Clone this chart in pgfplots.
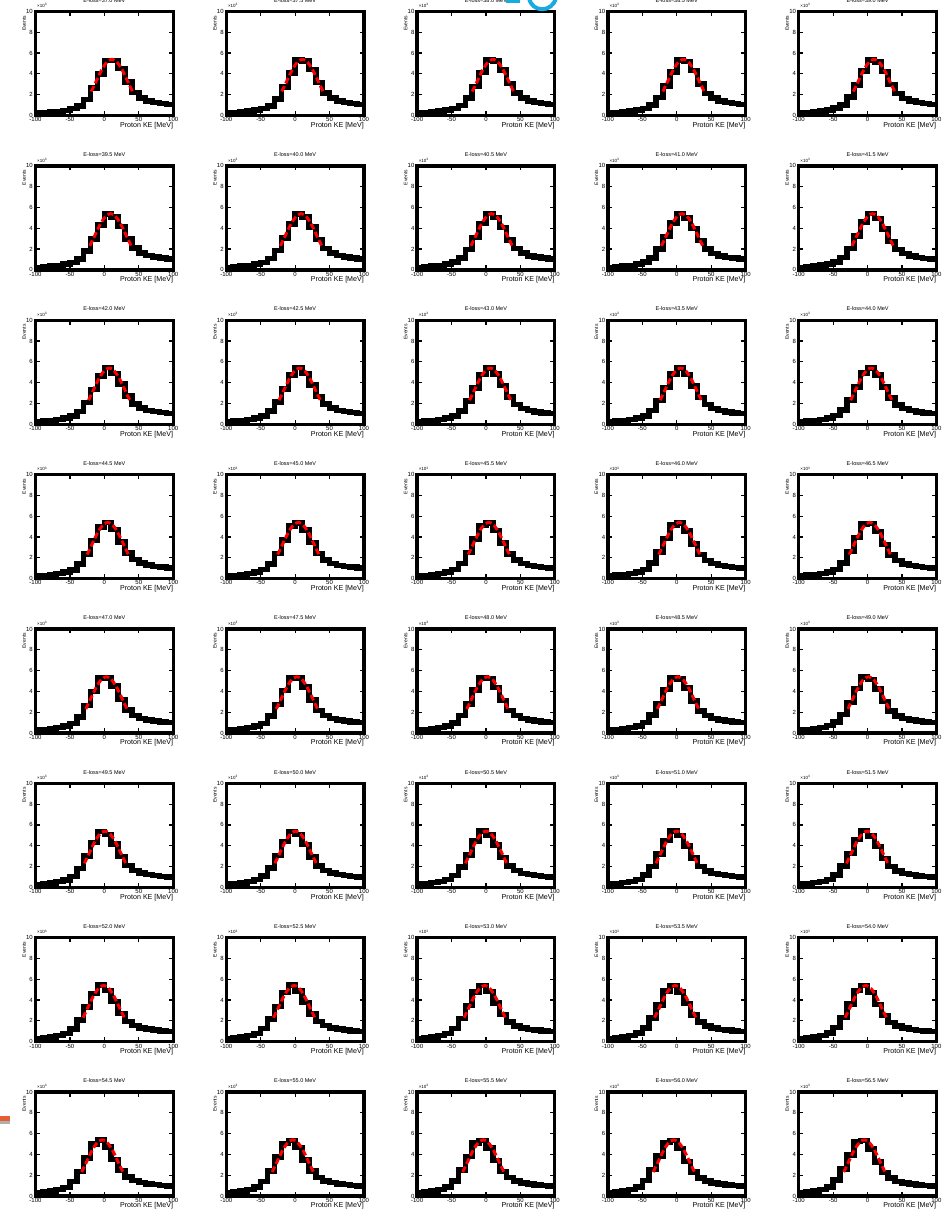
\documentclass[border=0pt]{standalone}
\usepackage{pgfplots}
\pgfplotsset{compat=1.18}
\usepackage{pgfplotstable}
\usepackage{fontspec}
\setmainfont{Liberation Sans}

\definecolor{slidecyan}{RGB}{25,170,225}
\definecolor{slideorange}{RGB}{230,95,50}
\definecolor{slidegray}{RGB}{175,175,175}

% Histogram contents: column 0 = left bin edge (MeV), columns 1..40 = events (x10^3)
% for E-loss = 37.0, 37.5, ..., 56.5 MeV. The last row closes the final bin.
\pgfplotstableread[header=false]{
-100 0.22 0.22 0.23 0.23 0.23 0.24 0.24 0.24 0.24 0.25 0.25 0.25 0.26 0.26 0.26 0.27 0.27 0.27 0.27 0.28 0.28 0.28 0.29 0.29 0.29 0.29 0.30 0.30 0.30 0.30 0.31 0.31 0.31 0.31 0.32 0.32 0.32 0.32 0.33 0.33
-90 0.28 0.28 0.29 0.29 0.29 0.29 0.30 0.30 0.30 0.30 0.31 0.31 0.31 0.31 0.32 0.32 0.32 0.32 0.33 0.33 0.33 0.33 0.34 0.34 0.34 0.35 0.35 0.35 0.36 0.36 0.37 0.37 0.37 0.38 0.38 0.38 0.39 0.39 0.39 0.40
-80 0.33 0.33 0.34 0.34 0.34 0.35 0.35 0.35 0.36 0.36 0.37 0.37 0.37 0.38 0.38 0.38 0.39 0.39 0.39 0.40 0.40 0.41 0.41 0.42 0.42 0.43 0.43 0.44 0.44 0.45 0.45 0.46 0.46 0.47 0.47 0.48 0.48 0.49 0.49 0.50
-70 0.40 0.41 0.41 0.42 0.42 0.43 0.43 0.44 0.44 0.45 0.45 0.46 0.46 0.47 0.47 0.48 0.48 0.49 0.49 0.50 0.50 0.51 0.52 0.52 0.53 0.54 0.55 0.55 0.56 0.57 0.58 0.58 0.59 0.60 0.61 0.61 0.62 0.63 0.64 0.64
-60 0.50 0.51 0.52 0.52 0.53 0.54 0.55 0.55 0.56 0.57 0.58 0.58 0.59 0.60 0.61 0.61 0.62 0.63 0.64 0.64 0.65 0.66 0.68 0.69 0.70 0.71 0.73 0.74 0.75 0.76 0.78 0.79 0.80 0.81 0.83 0.84 0.85 0.86 0.88 0.89
-50 0.65 0.66 0.68 0.69 0.70 0.71 0.73 0.74 0.75 0.76 0.78 0.79 0.80 0.81 0.83 0.84 0.85 0.86 0.88 0.89 0.90 0.93 0.97 1.00 1.03 1.06 1.10 1.13 1.16 1.19 1.23 1.26 1.29 1.32 1.36 1.39 1.42 1.45 1.49 1.52
-40 0.90 0.93 0.97 1.00 1.03 1.06 1.10 1.13 1.16 1.19 1.23 1.26 1.29 1.32 1.36 1.39 1.42 1.45 1.49 1.52 1.55 1.61 1.66 1.72 1.77 1.83 1.88 1.94 1.99 2.05 2.10 2.16 2.21 2.27 2.32 2.38 2.43 2.49 2.54 2.60
-30 1.55 1.61 1.66 1.72 1.77 1.83 1.88 1.94 1.99 2.05 2.10 2.16 2.21 2.27 2.32 2.38 2.43 2.49 2.54 2.60 2.65 2.72 2.79 2.85 2.92 2.99 3.06 3.12 3.19 3.26 3.33 3.39 3.46 3.53 3.60 3.66 3.73 3.80 3.87 3.93
-20 2.65 2.72 2.79 2.85 2.92 2.99 3.06 3.12 3.19 3.26 3.33 3.39 3.46 3.53 3.60 3.66 3.73 3.80 3.87 3.93 4.00 4.07 4.13 4.20 4.26 4.33 4.39 4.46 4.52 4.59 4.65 4.72 4.78 4.85 4.91 4.98 5.04 5.11 5.17 5.24
-10 4.00 4.07 4.13 4.20 4.26 4.33 4.39 4.46 4.52 4.59 4.65 4.72 4.78 4.85 4.91 4.98 5.04 5.11 5.17 5.24 5.30 5.32 5.33 5.35 5.36 5.38 5.39 5.41 5.42 5.44 5.45 5.44 5.42 5.41 5.39 5.38 5.36 5.35 5.33 5.32
0 5.30 5.32 5.33 5.35 5.36 5.38 5.39 5.41 5.42 5.44 5.45 5.44 5.42 5.41 5.39 5.38 5.36 5.35 5.33 5.32 5.30 5.26 5.22 5.18 5.14 5.10 5.06 5.02 4.98 4.94 4.90 4.86 4.82 4.78 4.74 4.70 4.66 4.62 4.58 4.54
10 5.30 5.26 5.22 5.18 5.14 5.10 5.06 5.02 4.98 4.94 4.90 4.86 4.82 4.78 4.74 4.70 4.66 4.62 4.58 4.54 4.50 4.44 4.37 4.31 4.24 4.18 4.11 4.05 3.98 3.92 3.85 3.79 3.72 3.66 3.59 3.53 3.46 3.40 3.33 3.27
20 4.50 4.44 4.37 4.31 4.24 4.18 4.11 4.05 3.98 3.92 3.85 3.79 3.72 3.66 3.59 3.53 3.46 3.40 3.33 3.27 3.20 3.15 3.10 3.05 3.00 2.95 2.90 2.85 2.80 2.75 2.70 2.65 2.60 2.55 2.50 2.45 2.40 2.35 2.30 2.25
30 3.20 3.15 3.10 3.05 3.00 2.95 2.90 2.85 2.80 2.75 2.70 2.65 2.60 2.55 2.50 2.45 2.40 2.35 2.30 2.25 2.20 2.18 2.15 2.13 2.10 2.08 2.05 2.03 2.00 1.98 1.95 1.93 1.90 1.88 1.85 1.83 1.80 1.78 1.75 1.73
40 2.20 2.18 2.15 2.13 2.10 2.08 2.05 2.03 2.00 1.98 1.95 1.93 1.90 1.88 1.85 1.83 1.80 1.78 1.75 1.73 1.70 1.69 1.67 1.66 1.64 1.63 1.61 1.60 1.58 1.57 1.55 1.54 1.52 1.51 1.49 1.48 1.46 1.45 1.43 1.42
50 1.70 1.69 1.67 1.66 1.64 1.63 1.61 1.60 1.58 1.57 1.55 1.54 1.52 1.51 1.49 1.48 1.46 1.45 1.43 1.42 1.40 1.39 1.39 1.38 1.37 1.36 1.36 1.35 1.34 1.33 1.33 1.32 1.31 1.30 1.30 1.29 1.28 1.27 1.27 1.26
60 1.40 1.39 1.39 1.38 1.37 1.36 1.36 1.35 1.34 1.33 1.33 1.32 1.31 1.30 1.30 1.29 1.28 1.27 1.27 1.26 1.25 1.25 1.24 1.24 1.23 1.23 1.22 1.22 1.21 1.21 1.20 1.20 1.19 1.19 1.18 1.18 1.17 1.17 1.16 1.16
70 1.25 1.25 1.24 1.24 1.23 1.23 1.22 1.22 1.21 1.21 1.20 1.20 1.19 1.19 1.18 1.18 1.17 1.17 1.16 1.16 1.15 1.15 1.14 1.14 1.13 1.13 1.13 1.12 1.12 1.11 1.11 1.11 1.10 1.10 1.09 1.09 1.09 1.08 1.08 1.07
80 1.15 1.15 1.14 1.14 1.13 1.13 1.13 1.12 1.12 1.11 1.11 1.11 1.10 1.10 1.09 1.09 1.09 1.08 1.08 1.07 1.07 1.07 1.06 1.06 1.06 1.06 1.05 1.05 1.05 1.05 1.05 1.04 1.04 1.04 1.04 1.03 1.03 1.03 1.02 1.02
90 1.07 1.07 1.06 1.06 1.06 1.06 1.05 1.05 1.05 1.05 1.05 1.04 1.04 1.04 1.04 1.03 1.03 1.03 1.02 1.02 1.02 1.02 1.01 1.01 1.01 1.01 1.00 1.00 1.00 1.00 1.00 0.99 0.99 0.99 0.99 0.98 0.98 0.98 0.97 0.97
100 1.07 1.07 1.06 1.06 1.06 1.06 1.05 1.05 1.05 1.05 1.05 1.04 1.04 1.04 1.04 1.03 1.03 1.03 1.02 1.02 1.02 1.02 1.01 1.01 1.01 1.01 1.00 1.00 1.00 1.00 1.00 0.99 0.99 0.99 0.99 0.98 0.98 0.98 0.97 0.97
}\histtab

% Peak fits: column 0 = fitted events (x10^3), columns 1..40 = proton KE (MeV)
% of that point of the fit curve for each E-loss panel.
\pgfplotstableread[header=false]{
2.31 -19.0 -19.4 -19.8 -20.2 -20.6 -21.0 -21.4 -21.8 -22.2 -22.6 -23.0 -23.4 -23.8 -24.2 -24.6 -25.0 -25.4 -25.8 -26.2 -26.6 -27.0 -27.4 -27.8 -28.2 -28.6 -29.0 -29.4 -29.8 -30.2 -30.6 -31.0 -31.4 -31.8 -32.2 -32.6 -33.0 -33.4 -33.8 -34.2 -34.6
2.99 -14.0 -14.4 -14.8 -15.2 -15.6 -16.0 -16.4 -16.8 -17.2 -17.6 -18.0 -18.4 -18.8 -19.2 -19.6 -20.0 -20.4 -20.8 -21.2 -21.6 -22.0 -22.4 -22.8 -23.2 -23.6 -24.0 -24.4 -24.8 -25.2 -25.6 -26.0 -26.4 -26.8 -27.2 -27.6 -28.0 -28.4 -28.8 -29.2 -29.6
3.70 -9.0 -9.4 -9.8 -10.2 -10.6 -11.0 -11.4 -11.8 -12.2 -12.6 -13.0 -13.4 -13.8 -14.2 -14.6 -15.0 -15.4 -15.8 -16.2 -16.6 -17.0 -17.4 -17.8 -18.2 -18.6 -19.0 -19.4 -19.8 -20.2 -20.6 -21.0 -21.4 -21.8 -22.2 -22.6 -23.0 -23.4 -23.8 -24.2 -24.6
4.37 -4.0 -4.4 -4.8 -5.2 -5.6 -6.0 -6.4 -6.8 -7.2 -7.6 -8.0 -8.4 -8.8 -9.2 -9.6 -10.0 -10.4 -10.8 -11.2 -11.6 -12.0 -12.4 -12.8 -13.2 -13.6 -14.0 -14.4 -14.8 -15.2 -15.6 -16.0 -16.4 -16.8 -17.2 -17.6 -18.0 -18.4 -18.8 -19.2 -19.6
4.91 1.0 0.6 0.2 -0.2 -0.6 -1.0 -1.4 -1.8 -2.2 -2.6 -3.0 -3.4 -3.8 -4.2 -4.6 -5.0 -5.4 -5.8 -6.2 -6.6 -7.0 -7.4 -7.8 -8.2 -8.6 -9.0 -9.4 -9.8 -10.2 -10.6 -11.0 -11.4 -11.8 -12.2 -12.6 -13.0 -13.4 -13.8 -14.2 -14.6
5.27 6.0 5.6 5.2 4.8 4.4 4.0 3.6 3.2 2.8 2.4 2.0 1.6 1.2 0.8 0.4 0.0 -0.4 -0.8 -1.2 -1.6 -2.0 -2.4 -2.8 -3.2 -3.6 -4.0 -4.4 -4.8 -5.2 -5.6 -6.0 -6.4 -6.8 -7.2 -7.6 -8.0 -8.4 -8.8 -9.2 -9.6
5.40 11.0 10.6 10.2 9.8 9.4 9.0 8.6 8.2 7.8 7.4 7.0 6.6 6.2 5.8 5.4 5.0 4.6 4.2 3.8 3.4 3.0 2.6 2.2 1.8 1.4 1.0 0.6 0.2 -0.2 -0.6 -1.0 -1.4 -1.8 -2.2 -2.6 -3.0 -3.4 -3.8 -4.2 -4.6
5.27 16.0 15.6 15.2 14.8 14.4 14.0 13.6 13.2 12.8 12.4 12.0 11.6 11.2 10.8 10.4 10.0 9.6 9.2 8.8 8.4 8.0 7.6 7.2 6.8 6.4 6.0 5.6 5.2 4.8 4.4 4.0 3.6 3.2 2.8 2.4 2.0 1.6 1.2 0.8 0.4
4.91 21.0 20.6 20.2 19.8 19.4 19.0 18.6 18.2 17.8 17.4 17.0 16.6 16.2 15.8 15.4 15.0 14.6 14.2 13.8 13.4 13.0 12.6 12.2 11.8 11.4 11.0 10.6 10.2 9.8 9.4 9.0 8.6 8.2 7.8 7.4 7.0 6.6 6.2 5.8 5.4
4.37 26.0 25.6 25.2 24.8 24.4 24.0 23.6 23.2 22.8 22.4 22.0 21.6 21.2 20.8 20.4 20.0 19.6 19.2 18.8 18.4 18.0 17.6 17.2 16.8 16.4 16.0 15.6 15.2 14.8 14.4 14.0 13.6 13.2 12.8 12.4 12.0 11.6 11.2 10.8 10.4
3.70 31.0 30.6 30.2 29.8 29.4 29.0 28.6 28.2 27.8 27.4 27.0 26.6 26.2 25.8 25.4 25.0 24.6 24.2 23.8 23.4 23.0 22.6 22.2 21.8 21.4 21.0 20.6 20.2 19.8 19.4 19.0 18.6 18.2 17.8 17.4 17.0 16.6 16.2 15.8 15.4
2.99 36.0 35.6 35.2 34.8 34.4 34.0 33.6 33.2 32.8 32.4 32.0 31.6 31.2 30.8 30.4 30.0 29.6 29.2 28.8 28.4 28.0 27.6 27.2 26.8 26.4 26.0 25.6 25.2 24.8 24.4 24.0 23.6 23.2 22.8 22.4 22.0 21.6 21.2 20.8 20.4
2.31 41.0 40.6 40.2 39.8 39.4 39.0 38.6 38.2 37.8 37.4 37.0 36.6 36.2 35.8 35.4 35.0 34.6 34.2 33.8 33.4 33.0 32.6 32.2 31.8 31.4 31.0 30.6 30.2 29.8 29.4 29.0 28.6 28.2 27.8 27.4 27.0 26.6 26.2 25.8 25.4
}\fittab

\pgfplotsset{
  panel/.style={
    anchor=north west, scale only axis, width=137.7pt, height=104pt,
    clip=false,
    xmin=-100, xmax=100, ymin=0, ymax=10,
    xtick={-100,-50,0,50,100}, xticklabels={-100,-50,0,50,100},
    ytick={0,2,4,6,8,10}, yticklabels={0,2,4,6,8,10},
    tick align=inside, major tick length=4.5pt,
    major tick style={line width=1.2pt, black},
    axis line style={line width=3.3pt, line join=miter},
    tick label style={font=\fontsize{6}{6}\selectfont, inner sep=0pt},
    xticklabel style={yshift=-2pt},
    yticklabel style={xshift=-2.5pt},
    title style={font=\fontsize{5.5}{6}\selectfont, inner sep=0pt,
      at={(0.5,1)}, anchor=south, yshift=3pt},
    xlabel={Proton KE [MeV]},
    xlabel style={font=\fontsize{7.1}{8}\selectfont, inner sep=0pt,
      at={(rel axis cs:1,0)}, anchor=north east, yshift=-6.5pt},
    ylabel={Events},
    ylabel style={font=\fontsize{5}{6}\selectfont, inner sep=0pt,
      at={(rel axis cs:-0.069,0.962)}, anchor=south east},
  },
  hist/.style={const plot, black, line width=5.5pt, line join=miter, no markers},
  fitline/.style={red, line width=3pt, dash pattern=on 6pt off 3pt, smooth, no markers},
}

% #1 column, #2 row, #3 data column, #4 energy loss
\newcommand\panel[4]{%
  \begin{axis}[panel, at={(35.5pt+#1*190.8pt, -11.5pt-#2*154.36pt)},
      title={E-loss=#4 MeV}]
    \addplot[hist] table[x index=0, y index=#3] {\histtab};
    \addplot[fitline] table[x index=#3, y index=0] {\fittab};
    \node[anchor=south west, inner sep=0pt, font=\fontsize{4.5}{5}\selectfont,
      xshift=1.5pt, yshift=3.5pt] at (rel axis cs:0,1)
      {×10\raisebox{1.8pt}{\fontsize{3.2}{3.5}\selectfont 3}};
  \end{axis}}

\begin{document}
\begin{tikzpicture}
\useasboundingbox (0,0) rectangle (949pt,-1214pt);

\panel{0}{0}{1}{37.0}
\panel{1}{0}{2}{37.5}
\panel{2}{0}{3}{38.0}
\panel{3}{0}{4}{38.5}
\panel{4}{0}{5}{39.0}

\panel{0}{1}{6}{39.5}
\panel{1}{1}{7}{40.0}
\panel{2}{1}{8}{40.5}
\panel{3}{1}{9}{41.0}
\panel{4}{1}{10}{41.5}

\panel{0}{2}{11}{42.0}
\panel{1}{2}{12}{42.5}
\panel{2}{2}{13}{43.0}
\panel{3}{2}{14}{43.5}
\panel{4}{2}{15}{44.0}

\panel{0}{3}{16}{44.5}
\panel{1}{3}{17}{45.0}
\panel{2}{3}{18}{45.5}
\panel{3}{3}{19}{46.0}
\panel{4}{3}{20}{46.5}

\panel{0}{4}{21}{47.0}
\panel{1}{4}{22}{47.5}
\panel{2}{4}{23}{48.0}
\panel{3}{4}{24}{48.5}
\panel{4}{4}{25}{49.0}

\panel{0}{5}{26}{49.5}
\panel{1}{5}{27}{50.0}
\panel{2}{5}{28}{50.5}
\panel{3}{5}{29}{51.0}
\panel{4}{5}{30}{51.5}

\panel{0}{6}{31}{52.0}
\panel{1}{6}{32}{52.5}
\panel{2}{6}{33}{53.0}
\panel{3}{6}{34}{53.5}
\panel{4}{6}{35}{54.0}

\panel{0}{7}{36}{54.5}
\panel{1}{7}{37}{55.0}
\panel{2}{7}{38}{55.5}
\panel{3}{7}{39}{56.0}
\panel{4}{7}{40}{56.5}

% slide decorations showing through the page
\draw[slidecyan, line width=4pt] (529pt,2pt) .. controls (532pt,-13pt) and (552pt,-13pt) .. (556pt,2pt);
\fill[slidecyan] (506pt,0pt) rectangle (520pt,-3pt);
\fill[slideorange] (0pt,-1116pt) rectangle (10pt,-1120.5pt);
\fill[slidegray] (0pt,-1120.5pt) rectangle (10pt,-1124pt);
\end{tikzpicture}
\end{document}
